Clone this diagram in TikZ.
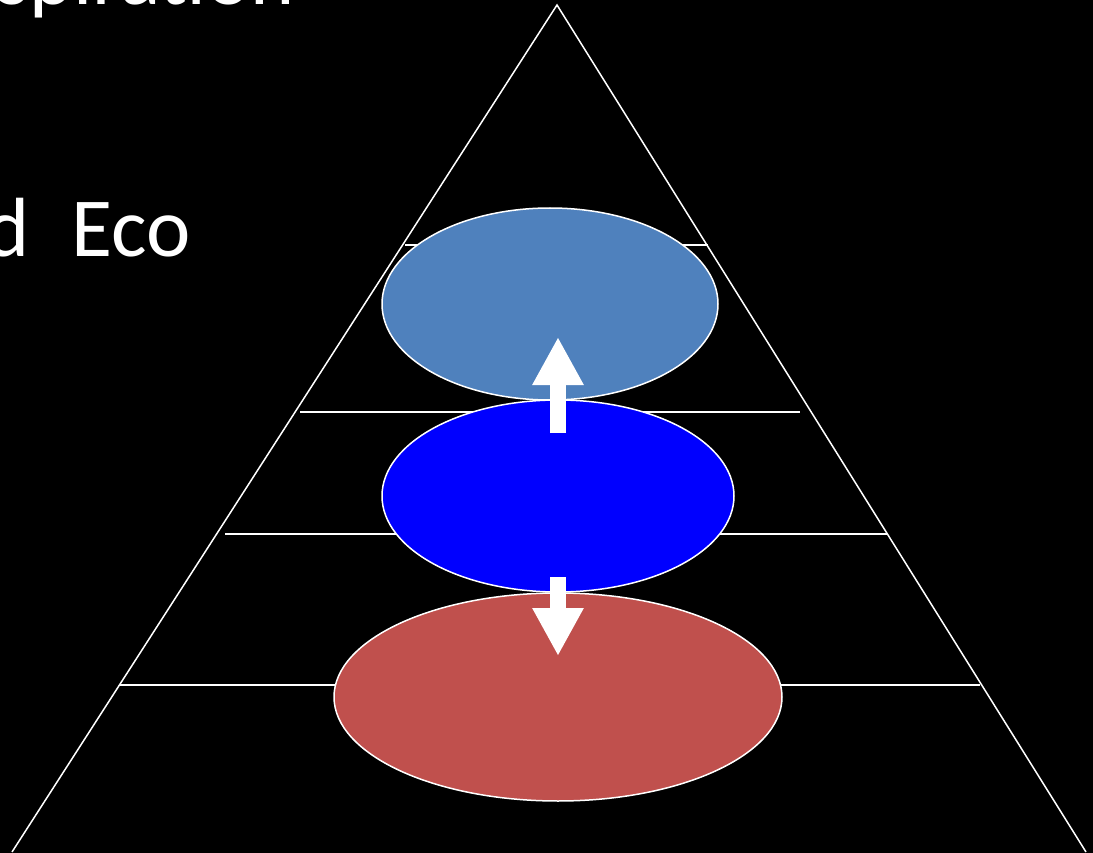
\documentclass[tikz,border=0pt]{standalone}
\usepackage{fontspec}
\setmainfont{Carlito}
\usetikzlibrary{shapes.geometric,arrows.meta}
\begin{document}
\begin{tikzpicture}[x=1pt,y=-1pt,
  wline/.style={draw=white,line width=1.5pt},
  level/.style={ellipse,draw=white,line width=1.5pt,inner sep=0pt},
  bigarrow/.style={draw=white,line width=16pt,-{Triangle[length=48pt,width=48pt]}},
  title/.style={text=white,inner sep=0pt,font=\fontsize{84}{100}\selectfont}]
\fill[black] (0,0) rectangle (1093,853);
\useasboundingbox (0,0) rectangle (1093,853);
\clip (0,0) rectangle (1093,853);
\node[title,anchor=base west] (t1) at (-4,5) {spiration};
\node[title,anchor=base east] (t2) at (191,257) {d\hspace{23pt} Eco};
% pyramid
\coordinate (apex) at (557,5);
\coordinate (bl) at (12,852);
\coordinate (br) at (1086,852);
\draw[wline,line join=miter] (bl) -- (apex) -- (br);
\coordinate (l1a) at (405,245); \coordinate (l1b) at (708,245);
\coordinate (l2a) at (300,412); \coordinate (l2b) at (800,412);
\coordinate (l3a) at (225,534); \coordinate (l3b) at (888,534);
\coordinate (l4a) at (120,685); \coordinate (l4b) at (980,685);
\draw[wline] (l1a) -- (l1b);
\draw[wline] (l2a) -- (l2b);
\draw[wline] (l3a) -- (l3b);
\draw[wline] (l4a) -- (l4b);
% ellipses
\node[level,fill={rgb,255:red,79;green,129;blue,189},minimum width=336pt,minimum height=192pt] (top) at (550,304) {};
\node[level,fill={rgb,255:red,0;green,0;blue,255},minimum width=352pt,minimum height=192pt] (mid) at (558,496) {};
\node[level,fill={rgb,255:red,192;green,80;blue,77},minimum width=448pt,minimum height=208pt] (bot) at (558,697) {};
% arrows
\coordinate (upS) at (558,433); \coordinate (upE) at (558,337);
\coordinate (dnS) at (558,577); \coordinate (dnE) at (558,656);
\draw[bigarrow] (upS) -- (upE);
\draw[bigarrow] (dnS) -- (dnE);
\end{tikzpicture}
\end{document}
